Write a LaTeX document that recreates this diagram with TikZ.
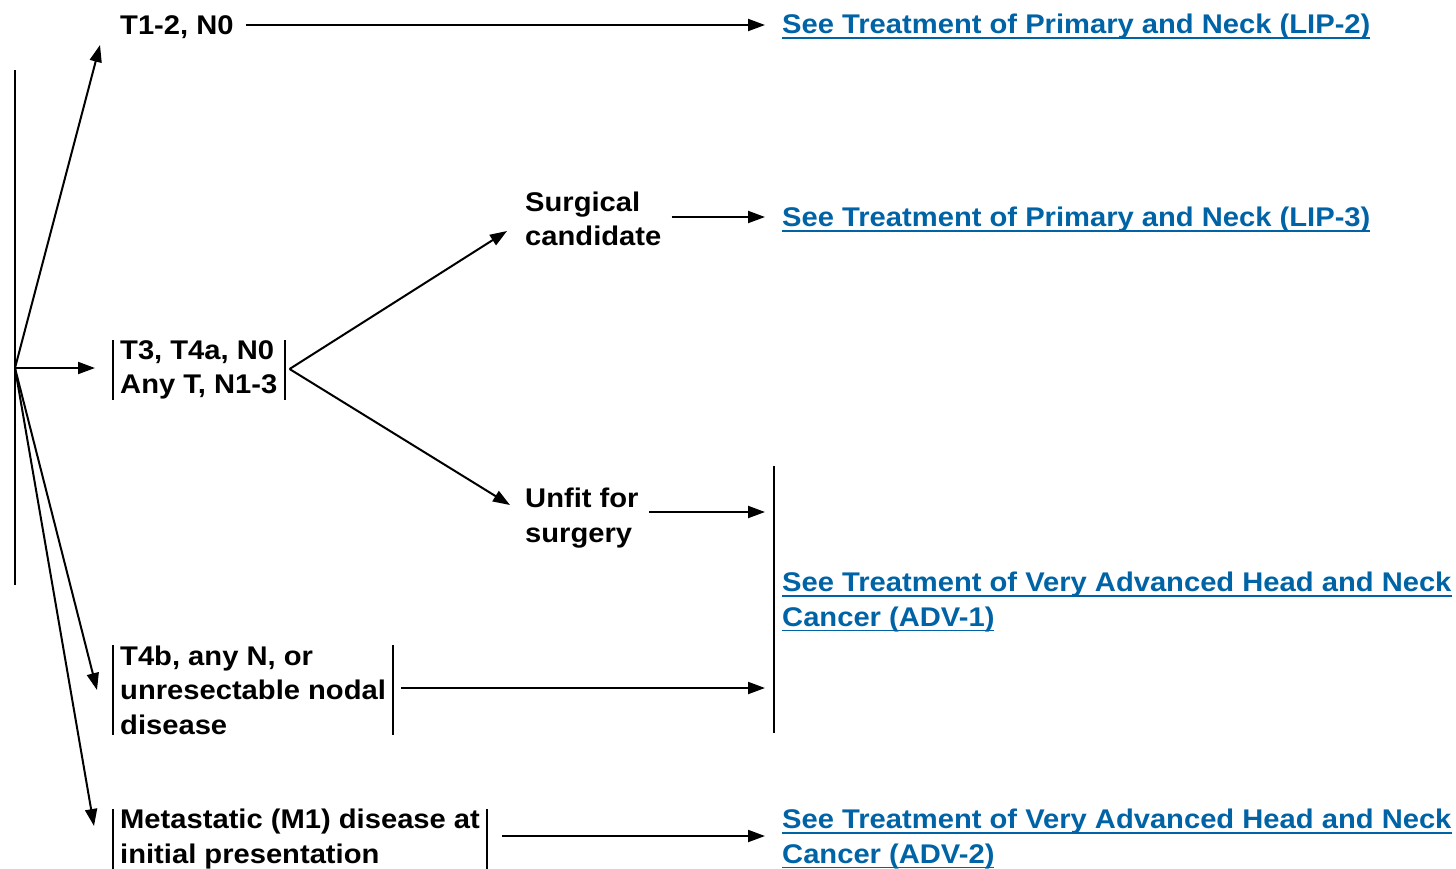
\documentclass[tikz,border=0pt]{standalone}
\usepackage{fontspec}
\setmainfont{Liberation Sans}[FakeStretch=1.08]
\usetikzlibrary{arrows.meta,calc}
\definecolor{linkblue}{RGB}{0,99,166}
% underlined link text
\newcommand\lnk[1]{\setbox0\hbox{#1}\rlap{\rule[-5pt]{\wd0}{1.6pt}}\box0}
\begin{document}
\begin{tikzpicture}[x=1pt,y=-1pt,
  lbl/.style={anchor=west, align=left, inner xsep=7pt, inner ysep=0pt,
    font=\fontsize{27}{34.5}\selectfont\bfseries},
  link/.style={lbl, text=linkblue, inner xsep=0pt},
  arr/.style={-{Triangle[length=17pt,width=12pt]}, line width=2pt},
  bar/.style={line width=2pt}]
\useasboundingbox (0,0) rectangle (1456,868);

% stem of the tree
\coordinate (top) at (15,70);
\coordinate (bot) at (15,585);
\coordinate (o) at (15,368);
\draw[bar] (top) -- (bot);

% first-level categories
\node[lbl] (n1) at (113,27) {T1-2, N0};
\node[lbl] (n2) at (113,370) {T3, T4a, N0\\Any T, N1-3};
\node[lbl] (n4) at (113,690) {T4b, any N, or\\unresectable nodal\\disease};
\node[lbl] (n5) at (113,839) {Metastatic (M1) disease at\\initial presentation};
\draw[bar] (n2.north west) -- (n2.south west) (n2.north east) -- (n2.south east);
\draw[bar] (n4.north west) -- (n4.south west) (n4.north east) -- (n4.south east);
\draw[bar] (n5.north west) -- (n5.south west) (n5.north east) -- (n5.south east);

% second-level categories
\node[lbl] (sc) at (518,219) {Surgical\\candidate};
\node[lbl] (uf) at (518,518) {Unfit for\\surgery};

% link targets
\node[link] (l2) at (782,27) {\lnk{See Treatment of Primary and Neck (LIP-2)}};
\node[link] (l3) at (782,220) {\lnk{See Treatment of Primary and Neck (LIP-3)}};
\node[link] (a1) at (782,602) {\lnk{See Treatment of Very Advanced Head and Neck}\\\lnk{Cancer (ADV-1)}};
\node[link] (a2) at (782,839) {\lnk{See Treatment of Very Advanced Head and Neck}\\\lnk{Cancer (ADV-2)}};

% bracket in front of ADV-1
\coordinate (bt) at (774,466);
\coordinate (bb) at (774,733);
\draw[bar] (bt) -- (bb);

% arrow tips next to the categories
\coordinate (t1) at (100,45);
\coordinate (t4) at (97,690);
\coordinate (t5) at (94,826);
\coordinate (tsc) at (507,231);
\coordinate (tuf) at (510,505);
\coordinate (tip) at (765,0);

\draw[arr] (o) -- (t1);
\draw[arr, shorten >=18pt] (o) -- (o -| n2.west);
\draw[arr] (o) -- (t4);
\draw[arr] (o) -- (t5);

\draw[arr] ($(n2.east)+(5,-1)$) -- (tsc);
\draw[arr] ($(n2.east)+(5,-1)$) -- (tuf);

\draw[arr] ($(n1.east)+(5,-2)$) -- ($(n1.east -| tip)+(0,-2)$);
\draw[arr] ($(sc.east)+(3,-2)$) -- ($(sc.east -| tip)+(0,-2)$);
\draw[arr] ($(uf.east)+(3,-6)$) -- ($(uf.east -| tip)+(0,-6)$);
\draw[arr] ($(n4.east)+(8,-2)$) -- ($(n4.east -| tip)+(0,-2)$);
\draw[arr] ($(n5.east)+(15,-3)$) -- ($(n5.east -| tip)+(0,-3)$);
\end{tikzpicture}
\end{document}
